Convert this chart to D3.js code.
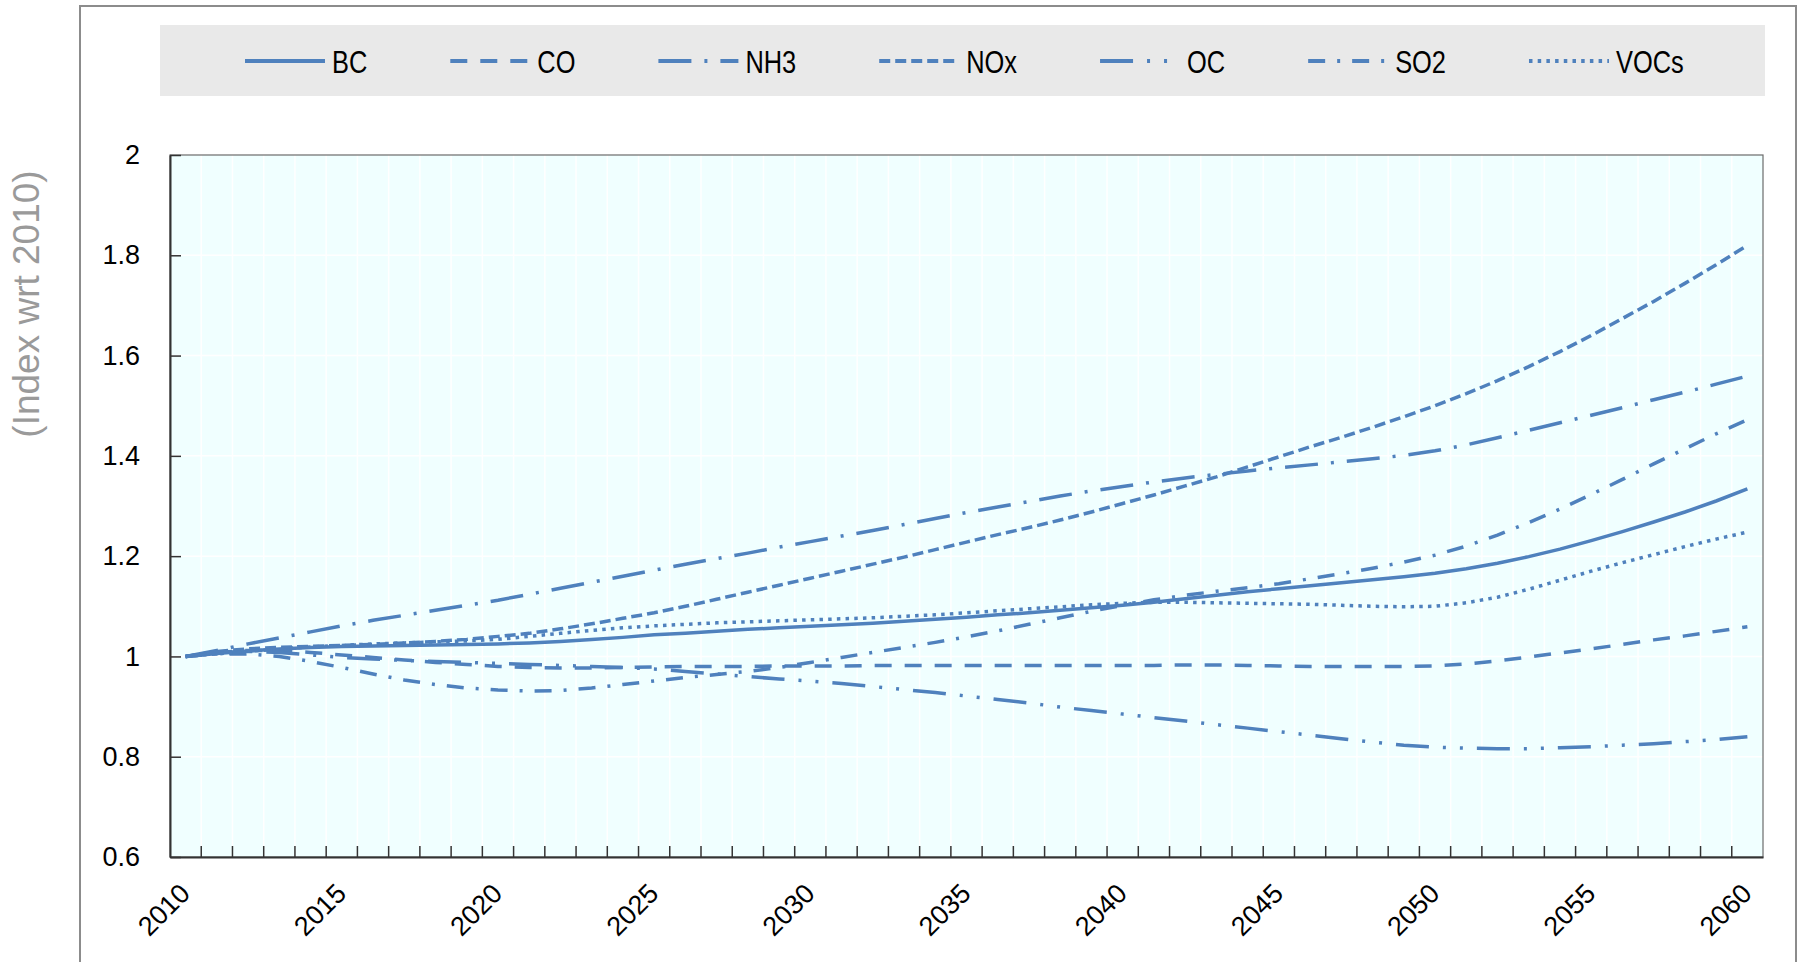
<!DOCTYPE html>
<html>
<head>
<meta charset="utf-8">
<script src="https://cdn.jsdelivr.net/npm/d3@7"></script>
<style>
  body { margin: 0; background: #fff; }
  svg { display: block; }
</style>
</head>
<body>
<div id="chart"></div>
<script>
const years = [
    2010, 2011, 2012, 2013, 2014, 2015, 2016, 2017, 2018, 2019,
    2020, 2021, 2022, 2023, 2024, 2025, 2026, 2027, 2028, 2029,
    2030, 2031, 2032, 2033, 2034, 2035, 2036, 2037, 2038, 2039,
    2040, 2041, 2042, 2043, 2044, 2045, 2046, 2047, 2048, 2049,
    2050, 2051, 2052, 2053, 2054, 2055, 2056, 2057, 2058, 2059, 2060
];
const yearLabels = [2010, 2015, 2020, 2025, 2030, 2035, 2040, 2045, 2050, 2055, 2060];
const yTicks = [0.6, 0.8, 1, 1.2, 1.4, 1.6, 1.8, 2];
const seriesNames = ['BC', 'CO', 'NH3', 'NOx', 'OC', 'SO2', 'VOCs'];

const bc = [
    1.000, 1.006, 1.011, 1.015, 1.018, 1.020, 1.021, 1.022, 1.023, 1.024,
    1.025, 1.027, 1.030, 1.034, 1.038, 1.043, 1.046, 1.050, 1.054, 1.057,
    1.060, 1.063, 1.066, 1.070, 1.074, 1.078, 1.083, 1.087, 1.092, 1.097,
    1.102, 1.108, 1.115, 1.122, 1.129, 1.135, 1.141, 1.147, 1.153, 1.159,
    1.166, 1.175, 1.186, 1.199, 1.214, 1.231, 1.249, 1.268, 1.288, 1.310, 1.334
];
const co = [
    1.000, 1.008, 1.012, 1.012, 1.008, 1.003, 0.998, 0.993, 0.988, 0.984,
    0.980, 0.978, 0.977, 0.977, 0.978, 0.979, 0.980, 0.980, 0.980, 0.981,
    0.981, 0.981, 0.982, 0.982, 0.982, 0.982, 0.982, 0.982, 0.982, 0.982,
    0.982, 0.982, 0.983, 0.983, 0.982, 0.981, 0.980, 0.980, 0.980, 0.980,
    0.981, 0.985, 0.991, 0.999, 1.007, 1.015, 1.024, 1.033, 1.041, 1.050, 1.059
];
const nh3 = [
    1.000, 1.012, 1.025, 1.037, 1.049, 1.061, 1.072, 1.082, 1.092, 1.102,
    1.112, 1.124, 1.136, 1.148, 1.160, 1.172, 1.184, 1.195, 1.206, 1.218,
    1.229, 1.240, 1.251, 1.263, 1.275, 1.287, 1.298, 1.309, 1.320, 1.330,
    1.339, 1.348, 1.356, 1.363, 1.370, 1.376, 1.382, 1.388, 1.394, 1.401,
    1.410, 1.422, 1.436, 1.451, 1.466, 1.481, 1.496, 1.512, 1.527, 1.543, 1.559
];
const nox = [
    1.000, 1.010, 1.015, 1.018, 1.020, 1.022, 1.024, 1.027, 1.030, 1.034,
    1.040, 1.046, 1.055, 1.065, 1.076, 1.087, 1.100, 1.114, 1.128, 1.142,
    1.156, 1.170, 1.184, 1.198, 1.213, 1.228, 1.243, 1.257, 1.272, 1.288,
    1.305, 1.322, 1.340, 1.358, 1.378, 1.398, 1.418, 1.437, 1.457, 1.478,
    1.500, 1.524, 1.550, 1.578, 1.608, 1.640, 1.674, 1.708, 1.744, 1.781, 1.820
];
const oc = [
    1.000, 1.008, 1.010, 1.008, 1.003, 0.998, 0.995, 0.992, 0.990, 0.988,
    0.986, 0.984, 0.982, 0.980, 0.978, 0.975, 0.970, 0.965, 0.960, 0.955,
    0.951, 0.946, 0.940, 0.934, 0.928, 0.921, 0.914, 0.907, 0.899, 0.892,
    0.885, 0.878, 0.871, 0.864, 0.857, 0.850, 0.843, 0.836, 0.829, 0.823,
    0.819, 0.817, 0.816, 0.816, 0.818, 0.820, 0.823, 0.826, 0.830, 0.834, 0.840
];
const so2 = [
    1.000, 1.005, 1.005, 1.000, 0.990, 0.978, 0.965, 0.953, 0.944, 0.937,
    0.933, 0.931, 0.932, 0.937, 0.944, 0.951, 0.958, 0.964, 0.970, 0.978,
    0.988, 0.998, 1.008, 1.018, 1.028, 1.039, 1.051, 1.064, 1.077, 1.090,
    1.102, 1.113, 1.122, 1.130, 1.137, 1.145, 1.155, 1.165, 1.176, 1.188,
    1.202, 1.220, 1.242, 1.267, 1.294, 1.323, 1.353, 1.384, 1.414, 1.444, 1.472
];
const vocs = [
    1.000, 1.005, 1.010, 1.015, 1.019, 1.022, 1.025, 1.027, 1.029, 1.031,
    1.034, 1.040, 1.046, 1.052, 1.057, 1.061, 1.064, 1.067, 1.069, 1.071,
    1.073, 1.075, 1.077, 1.080, 1.083, 1.087, 1.091, 1.095, 1.099, 1.103,
    1.106, 1.108, 1.108, 1.107, 1.106, 1.105, 1.104, 1.102, 1.100, 1.099,
    1.100, 1.107, 1.118, 1.134, 1.152, 1.170, 1.187, 1.203, 1.219, 1.234, 1.248
];

const seriesValues = [bc, co, nh3, nox, oc, so2, vocs];
// dash patterns per series, same order as seriesNames
const dashes = ['none', '17,13', '33,13,3,13', '11,5', '33,14,3,14,3,14', '17,12,3,12', '3.5,5.2'];
const lineColor = '#4f81bd';
const labelFont = '"Liberation Sans", Arial, sans-serif';

const chartWidth = 1798;
const chartHeight = 962;
const plotLeft = 170, plotRight = 1763, plotTop = 155, plotBottom = 857;

const svg = d3.select('#chart')
    .append('svg')
    .attr('width', chartWidth)
    .attr('height', chartHeight);

// outer frame (left, top, right edges)
svg.append('path')
    .attr('d', `M80,${chartHeight} V6 H1796 V${chartHeight}`)
    .attr('fill', 'none')
    .attr('stroke', '#8c8c8c')
    .attr('stroke-width', 2);

const xScale = d3.scaleBand()
    .domain(years)
    .range([plotLeft, plotRight]);

const yScale = d3.scaleLinear()
    .domain([0.6, 2])
    .range([plotBottom, plotTop]);

// plot background
svg.append('rect')
    .attr('x', plotLeft)
    .attr('y', plotTop)
    .attr('width', plotRight - plotLeft)
    .attr('height', plotBottom - plotTop)
    .attr('fill', '#f0ffff');

// faint gridlines
svg.append('g')
    .selectAll('line')
    .data(years.slice(1))
    .enter()
    .append('line')
    .attr('x1', d => xScale(d))
    .attr('x2', d => xScale(d))
    .attr('y1', plotTop)
    .attr('y2', plotBottom)
    .attr('stroke', '#ffffff')
    .attr('stroke-width', 1.5);

svg.append('g')
    .selectAll('line')
    .data(yTicks.slice(1, -1))
    .enter()
    .append('line')
    .attr('x1', plotLeft)
    .attr('x2', plotRight)
    .attr('y1', d => yScale(d))
    .attr('y2', d => yScale(d))
    .attr('stroke', '#ffffff')
    .attr('stroke-width', 1.5);

// plot border
svg.append('rect')
    .attr('x', plotLeft)
    .attr('y', plotTop)
    .attr('width', plotRight - plotLeft)
    .attr('height', plotBottom - plotTop)
    .attr('fill', 'none')
    .attr('stroke', '#6b6b6b')
    .attr('stroke-width', 1.2);

// y axis
const yAxis = svg.append('g')
    .attr('transform', `translate(${plotLeft},0)`)
    .call(d3.axisLeft(yScale)
        .tickValues(yTicks)
        .tickFormat(d => String(d))
        .tickSize(-11)
        .tickSizeOuter(0)
        .tickPadding(30));

yAxis.select('.domain').attr('stroke', '#333').attr('stroke-width', 2);
yAxis.selectAll('.tick line').attr('stroke', '#333').attr('stroke-width', 1.5);
yAxis.selectAll('.tick text')
    .attr('font-family', labelFont)
    .attr('font-size', 27)
    .attr('fill', '#000');

// x axis: labels every 5 years, ticks between categories
const xAxis = svg.append('g')
    .attr('transform', `translate(0,${plotBottom})`)
    .call(d3.axisBottom(xScale)
        .tickValues(yearLabels)
        .tickSize(0)
        .tickSizeOuter(0));

xAxis.select('.domain').attr('stroke', '#333').attr('stroke-width', 2);
xAxis.selectAll('.tick text')
    .attr('x', 0)
    .attr('y', 0)
    .attr('dy', 0)
    .attr('transform', 'translate(6,38) rotate(-45)')
    .attr('text-anchor', 'end')
    .attr('font-family', labelFont)
    .attr('font-size', 27)
    .attr('fill', '#000');

svg.append('g')
    .selectAll('line')
    .data(years.slice(1))
    .enter()
    .append('line')
    .attr('x1', d => xScale(d))
    .attr('x2', d => xScale(d))
    .attr('y1', plotBottom)
    .attr('y2', plotBottom - 11)
    .attr('stroke', '#333')
    .attr('stroke-width', 1.5);

// y axis title
svg.append('text')
    .attr('transform', 'translate(39,304) rotate(-90)')
    .attr('text-anchor', 'middle')
    .attr('font-family', labelFont)
    .attr('font-size', 37)
    .attr('fill', '#9a9a9a')
    .text('(Index wrt 2010)');

// lines
const line = d3.line()
    .x((d, i) => xScale(years[i]) + xScale.bandwidth() / 2)
    .y(d => yScale(d));

svg.append('g')
    .selectAll('path')
    .data(seriesValues)
    .enter()
    .append('path')
    .attr('d', d => line(d))
    .attr('fill', 'none')
    .attr('stroke', lineColor)
    .attr('stroke-width', 3.5)
    .attr('stroke-dasharray', (d, i) => dashes[i]);

// legend
svg.append('rect')
    .attr('x', 160)
    .attr('y', 25)
    .attr('width', 1605)
    .attr('height', 71)
    .attr('fill', '#e9e9e9');

const legend = svg.append('g');
let legendX = 245;
seriesNames.forEach((name, i) => {
    const item = legend.append('g').attr('transform', `translate(${legendX},0)`);
    item.append('line')
        .attr('x1', 0)
        .attr('x2', 80)
        .attr('y1', 61)
        .attr('y2', 61)
        .attr('stroke', lineColor)
        .attr('stroke-width', 4)
        .attr('stroke-dasharray', dashes[i]);
    // narrow look: regular face squeezed horizontally
    const label = item.append('text')
        .attr('transform', 'translate(87,73) scale(0.82,1)')
        .attr('font-family', labelFont)
        .attr('font-size', 31)
        .attr('fill', '#000')
        .text(name);
    legendX += 87 + label.node().getComputedTextLength() * 0.82 + 83;
});
</script>
</body>
</html>
